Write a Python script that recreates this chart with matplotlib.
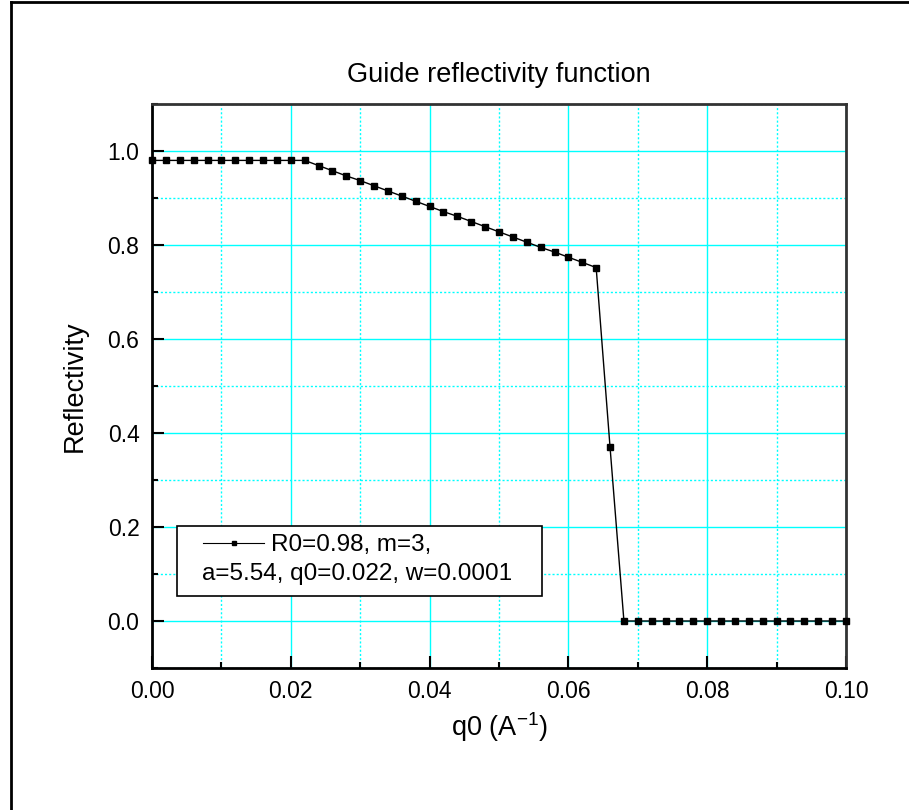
import matplotlib
matplotlib.use("Agg")
import matplotlib.pyplot as plt
from matplotlib.lines import Line2D
from matplotlib.patches import Rectangle
from matplotlib.ticker import MultipleLocator

plt.rcParams['font.family'] = ['Liberation Sans', 'DejaVu Sans']
plt.rcParams['mathtext.fontset'] = 'custom'
plt.rcParams['mathtext.rm'] = 'Liberation Sans'

q0 = [0.000, 0.002, 0.004, 0.006, 0.008, 0.010, 0.012, 0.014, 0.016, 0.018,
      0.020, 0.022, 0.024, 0.026, 0.028, 0.030, 0.032, 0.034, 0.036, 0.038,
      0.040, 0.042, 0.044, 0.046, 0.048, 0.050, 0.052, 0.054, 0.056, 0.058,
      0.060, 0.062, 0.064, 0.066, 0.068, 0.070, 0.072, 0.074, 0.076, 0.078,
      0.080, 0.082, 0.084, 0.086, 0.088, 0.090, 0.092, 0.094, 0.096, 0.098,
      0.100]
reflectivity = [0.980, 0.980, 0.980, 0.980, 0.980, 0.980, 0.980, 0.980, 0.980, 0.980,
                0.980, 0.980, 0.969, 0.958, 0.947, 0.937, 0.926, 0.915, 0.904, 0.893,
                0.882, 0.871, 0.861, 0.850, 0.839, 0.828, 0.817, 0.806, 0.795, 0.785,
                0.774, 0.763, 0.752, 0.370, 0.000, 0.000, 0.000, 0.000, 0.000, 0.000,
                0.000, 0.000, 0.000, 0.000, 0.000, 0.000, 0.000, 0.000, 0.000, 0.000,
                0.000]

title = "Guide reflectivity function"
xlabel = "q0 (A$^{\\mathrm{-1}}$)"
ylabel = "Reflectivity"
legend_line1 = "R0=0.98, m=3,"
legend_line2 = "a=5.54, q0=0.022, w=0.0001"

W, H = 909, 810
fig = plt.figure(figsize=(W / 100, H / 100), dpi=100)
ax = fig.add_axes([152 / W, 1 - 668 / H, 694 / W, 564 / H])

line, = ax.plot(q0, reflectivity, color='black', lw=1.0, marker='s',
                markersize=3.7, markerfacecolor='black', markeredgecolor='black',
                zorder=5, clip_on=False)

ax.set_xlim(0, 0.1)
ax.set_ylim(-0.1, 1.1)
ax.xaxis.set_major_locator(MultipleLocator(0.02))
ax.xaxis.set_minor_locator(MultipleLocator(0.01))
ax.yaxis.set_major_locator(MultipleLocator(0.2))
ax.yaxis.set_minor_locator(MultipleLocator(0.1))
ax.xaxis.set_major_formatter(plt.FuncFormatter(lambda v, p: f"{v:.2f}"))
ax.yaxis.set_major_formatter(plt.FuncFormatter(lambda v, p: f"{v:.1f}"))

ax.grid(which='major', color='#00FFFF', lw=1.0, ls='-', zorder=0)
ax.grid(which='minor', color='#00FFFF', lw=1.0, ls=(0, (1.5, 1.5)), zorder=0)
ax.set_axisbelow(True)

ax.tick_params(which='major', direction='in', length=8.5, width=1.5,
               labelsize=16.5, top=False, right=False, pad=9, colors='black')
ax.tick_params(which='minor', direction='in', length=4.5, width=1.5,
               top=False, right=False)

for s in ['left', 'bottom']:
    ax.spines[s].set_linewidth(2.0)
    ax.spines[s].set_color('black')
for s in ['top', 'right']:
    ax.spines[s].set_linewidth(2.0)
    ax.spines[s].set_color('#333333')

ax.set_title(title, fontsize=19.5, pad=16)
ax.set_xlabel(xlabel, fontsize=19.5, labelpad=5)
ax.set_ylabel(ylabel, fontsize=19.5, labelpad=14)

# legend frame + entries
frame = Rectangle((0.036, 0.128), 0.526, 0.124, transform=ax.transAxes,
                  facecolor='white', edgecolor='black', lw=1.2, zorder=6)
ax.add_patch(frame)
leg = ax.legend([line], [legend_line1], loc='center left',
                bbox_to_anchor=(0.074, 0.218), frameon=False, fontsize=17.5,
                handlelength=2.5, handletextpad=0.3, borderpad=0, borderaxespad=0,
                markerscale=0.8)
leg.set_zorder(7)
for h in leg.legend_handles:
    h.set_linewidth(0.8)
ax.text(0.072, 0.166, legend_line2, transform=ax.transAxes, fontsize=17.5,
        ha='left', va='center', zorder=8)

# figure border (top and left)
fig.add_artist(Line2D([11 / W, 11 / W], [0, 1 - 2 / H], transform=fig.transFigure,
                      color='black', lw=2.0))
fig.add_artist(Line2D([11 / W, 1], [1 - 2 / H, 1 - 2 / H], transform=fig.transFigure,
                      color='black', lw=2.0))

fig.savefig('out.png', dpi=100)
